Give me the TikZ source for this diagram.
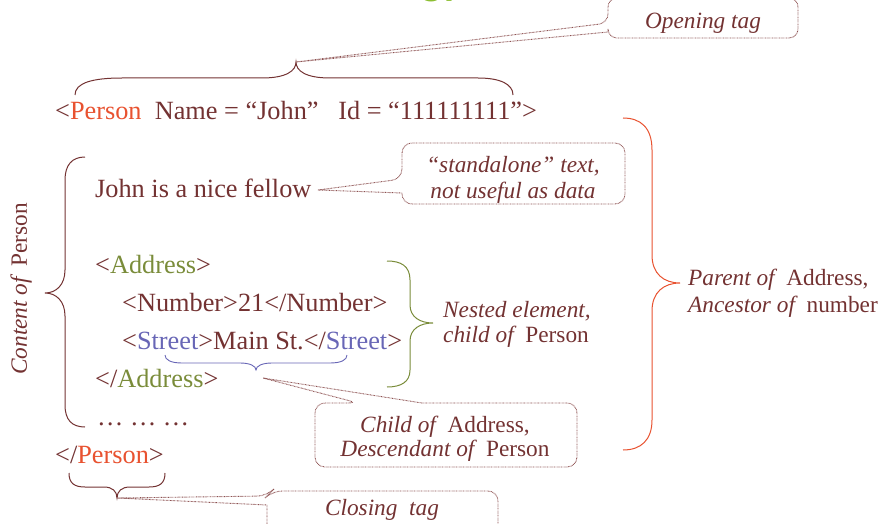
\documentclass[tikz,border=0pt]{standalone}
\usepackage{fontspec}
\setmainfont{Liberation Serif}
\newfontfamily\titlefont{Carlito}
\definecolor{ink}{RGB}{115,50,50}
\definecolor{tagP}{RGB}{232,82,48}
\definecolor{tagA}{RGB}{122,140,58}
\definecolor{tagS}{RGB}{104,102,182}
\definecolor{titlegreen}{RGB}{140,190,50}
\definecolor{calloutline}{RGB}{140,80,80}
\tikzset{
  code/.style={inner sep=0pt, text=ink, font=\fontsize{26.3}{31}\selectfont, anchor=base west},
  note/.style={inner sep=0pt, text=ink, font=\fontsize{23.3}{27}\selectfont\itshape},
  bracket/.style={line width=1pt, draw=ink},
  callout/.style={draw=calloutline, line width=0.9pt, dash pattern=on 0.7pt off 0.7pt}
}
\newcommand{\up}[1]{{\upshape #1}}
\begin{document}
\begin{tikzpicture}[x=1pt,y=-1pt]
\useasboundingbox (0,0) rectangle (886,524);

% title descenders peeking in at the top edge
\node[inner sep=0pt, anchor=base west, text=titlegreen, font=\titlefont\bfseries\fontsize{44}{50}\selectfont] (title) at (421,-5) {gy};

% XML lines
\node[code] (l1) at (55,120) {<\textcolor{tagP}{Person}\hspace{0.5em}Name = “John”\hspace{0.75em}Id = “111111111”>};
\node[code] (l2) at (95,197) {John is a nice fellow};
\node[code] (l3) at (95,273) {<\textcolor{tagA}{Address}>};
\node[code] (l4) at (122,311) {<Number>21</Number>};
\node[code] (l5) at (122,349) {<\textcolor{tagS}{Street}>Main St.</\textcolor{tagS}{Street}>};
\node[code] (l6) at (95,387) {</\textcolor{tagA}{Address}>};
\node[code] (l7) at (97,425) {… … …};
\node[code] (l8) at (55,463) {</\textcolor{tagP}{Person}>};

% brace tips
\coordinate (openTip) at (296,62);
\coordinate (closeTip) at (117,498);
\coordinate (streetTip) at (256,370);
\coordinate (contentTip) at (45,293);
\coordinate (parentTip) at (680,283);
\coordinate (nestedTip) at (433,323);
\coordinate (fellowEnd) at (318,190);
\coordinate (childTip) at (263,378);

% opening-tag brace
\draw[bracket] (75,95) .. controls (75,83) and (92,78) .. (122,78) -- (262,78)
  .. controls (286,78) and (296,71) .. (openTip)
  .. controls (296,71) and (306,78) .. (330,78) -- (478,78)
  .. controls (500,78) and (513,84) .. (513,95);
% closing-tag brace
\draw[bracket] (69,473) .. controls (69,483) and (74,487) .. (85,487) -- (104,487)
  .. controls (112,487) and (117,491) .. (closeTip)
  .. controls (117,491) and (122,487) .. (130,487) -- (149,487)
  .. controls (160,487) and (165,483) .. (165,473);
% Street brace
\draw[line width=0.9pt, draw=tagS] (165,355) .. controls (165,360) and (171,363) .. (182,363) -- (240,363)
  .. controls (250,363) and (256,366) .. (streetTip)
  .. controls (256,366) and (262,363) .. (272,363) -- (330,363)
  .. controls (341,363) and (347,360) .. (347,355);
% content brace
\draw[bracket] (85,157) .. controls (72,157) and (65,165) .. (65,180) -- (65,270)
  .. controls (65,285) and (56,293) .. (contentTip)
  .. controls (56,293) and (65,301) .. (65,316) -- (65,405)
  .. controls (65,420) and (72,427) .. (85,427);
% parent brace
\draw[line width=1pt, draw=tagP] (623,118) .. controls (641,118) and (652,128) .. (652,150) -- (652,255)
  .. controls (652,274) and (664,283) .. (parentTip)
  .. controls (664,283) and (652,292) .. (652,311) -- (652,420)
  .. controls (652,440) and (641,450) .. (623,450);
% nested brace
\draw[line width=1pt, draw=tagA] (387,261) .. controls (401,261) and (410,266) .. (410,280) -- (410,305)
  .. controls (410,317) and (420,323) .. (nestedTip)
  .. controls (420,323) and (410,329) .. (410,341) -- (410,370)
  .. controls (410,382) and (401,387) .. (387,387);

% brace labels
\node[note, anchor=base, rotate=90] (content) at (27,289) {Content of\hspace{0.45em}\up{Person}};
\node[note, anchor=base west] (parent1) at (688,285) {Parent of\hspace{0.5em}\up{Address,}};
\node[note, anchor=base west] (parent2) at (688,312) {Ancestor of\hspace{0.5em}\up{number}};
\node[note, anchor=base west] (nested1) at (443,317) {Nested element,};
\node[note, anchor=base west] (nested2) at (443,342) {child of\hspace{0.5em}\up{Person}};

% callouts
\draw[callout, rounded corners=9pt] (608,32) -- (608,38) -- (798,38) -- (798,-2) -- (608,-2) -- (608,23) [sharp corners] -- (openTip) -- cycle;
\node[note, anchor=base] (opening) at (703,29) {Opening tag};

\draw[callout, rounded corners=10pt] (402,193) -- (402,204) -- (625,204) -- (625,143) -- (402,143) -- (402,179) [sharp corners] -- (fellowEnd) -- cycle;
\node[note, anchor=base] (free1) at (513,172) {“standalone” text,};
\node[note, anchor=base] (free2) at (513,198) {not useful as data};

\draw[callout, rounded corners=10pt] (422,403) -- (577,403) -- (577,467) -- (315,467) -- (315,403) -- (358,403) [sharp corners] -- (childTip) -- cycle;
\node[note, anchor=base] (child1) at (445,432) {Child of\hspace{0.5em}\up{Address,}};
\node[note, anchor=base] (child2) at (445,456) {Descendant of\hspace{0.5em}\up{Person}};

\draw[callout, rounded corners=10pt] (267,505) -- (267,540) -- (498,540) -- (498,491) -- (272,491) -- (267,496) [sharp corners] -- (closeTip) -- cycle;
\node[note, anchor=base] (closing) at (382,515) {Closing\hspace{0.5em}tag};
\end{tikzpicture}
\end{document}
